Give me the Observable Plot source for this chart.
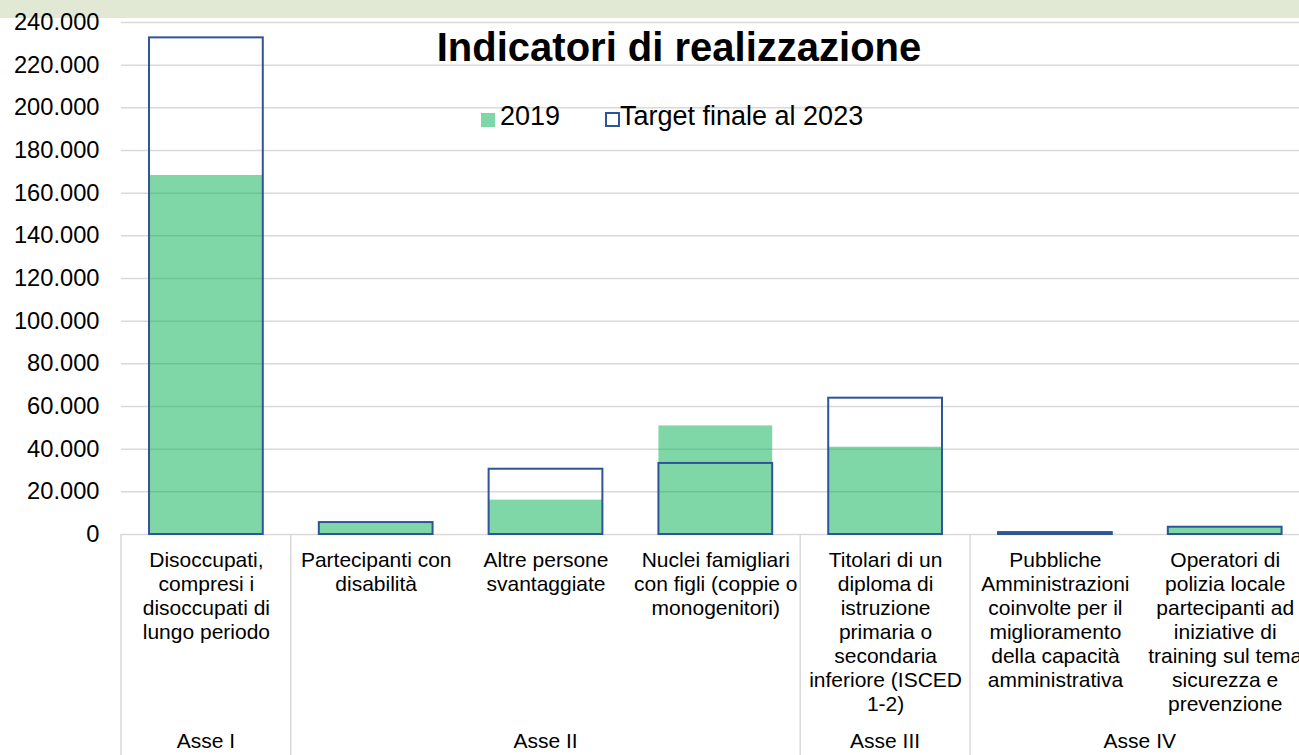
<!DOCTYPE html>
<html>
<head>
<meta charset="utf-8">
<script src="https://cdn.jsdelivr.net/npm/d3@7"></script>
<script src="https://cdn.jsdelivr.net/npm/@observablehq/plot@0.6"></script>
<style>
  html, body { margin: 0; padding: 0; background: #fff; }
  #wrap { position: relative; width: 1299px; height: 755px; overflow: hidden; font-family: "Liberation Sans", Arial, sans-serif; background: #fff; }
  #band { position: absolute; left: 0; top: 0; width: 1299px; height: 17.5px; background: #e1e8d4; z-index: 0; }
  #chart { position: absolute; left: 0; top: 0; z-index: 1; }
  #title { position: absolute; top: 27px; left: 679px; transform: translateX(-50%); font-size: 40px; line-height: 40px; font-weight: bold; color: #000; white-space: nowrap; z-index: 2; }
  .leg { position: absolute; font-size: 27px; line-height: 27px; color: #000; white-space: nowrap; z-index: 2; }
  .sw { position: absolute; z-index: 2; box-sizing: border-box; }
</style>
</head>
<body>
<div id="wrap">
  <div id="band"></div>
  <div id="chart"></div>
  <div id="title">Indicatori di realizzazione</div>
  <div class="sw" style="left:481px;top:113px;width:14px;height:14px;background:rgba(0,176,80,0.5);"></div>
  <div class="leg" style="left:500px;top:103px;">2019</div>
  <div class="sw" style="left:605px;top:112px;width:15px;height:15px;border:2px solid #2f5597;background:#fff;"></div>
  <div class="leg" style="left:620px;top:103px;">Target finale al 2023</div>
</div>
<script>
const categories = [
  "Disoccupati,\ncompresi i\ndisoccupati di\nlungo periodo",
  "Partecipanti con\ndisabilità",
  "Altre persone\nsvantaggiate",
  "Nuclei famigliari\ncon figli (coppie o\nmonogenitori)",
  "Titolari di un\ndiploma di\nistruzione\nprimaria o\nsecondaria\ninferiore (ISCED\n1-2)",
  "Pubbliche\nAmministrazioni\ncoinvolte per il\nmiglioramento\ndella capacità\namministrativa",
  "Operatori di\npolizia locale\npartecipanti ad\niniziative di\ntraining sul tema\nsicurezza e\nprevenzione"
];
const values2019 = [168300, 5300, 16100, 50900, 40900, 300, 3200];
const target2023 = [232800, 5600, 30600, 33300, 63900, 900, 3400];
const groups = ["Asse I", "Asse II", "Asse III", "Asse IV"];
const groupFirst = [0, 1, 4, 5];
const groupLast = [0, 3, 4, 6];
const yTicks = [0, 20000, 40000, 60000, 80000, 100000, 120000, 140000, 160000, 180000, 200000, 220000, 240000];

const it = d3.formatLocale({decimal: ",", thousands: ".", grouping: [3], currency: ["", "€"]});
const fmt = it.format(",");

const rows2019 = categories.map((c, i) => ({cat: c, v: values2019[i]}));
const rowsTarget = categories.map((c, i) => ({cat: c, v: target2023[i]}));

const W = 1299, H = 755;
const plot = Plot.plot({
  width: W,
  height: H,
  marginTop: 22,
  marginBottom: 221,
  marginLeft: 121,
  marginRight: 0,
  style: {fontFamily: "'Liberation Sans', Arial, sans-serif", color: "#000", background: "transparent"},
  x: {domain: categories, range: [121, 1309.6], paddingInner: 0.33, paddingOuter: 0.165, round: false, label: null},
  y: {domain: [0, 240000], label: null},
  marks: [
    Plot.ruleY(yTicks, {stroke: "#d9d9d9", strokeWidth: 1.5}),
    Plot.barY(rows2019, {x: "cat", y: "v", fill: "#00b050", fillOpacity: 0.5, inset: 0}),
    Plot.barY(rowsTarget, {x: "cat", y: "v", fill: "none", stroke: "#2f5597", strokeWidth: 2, inset: 0}),
    Plot.axisY({ticks: yTicks, tickFormat: fmt, tickSize: 0, tickPadding: 22, fontSize: 23.7, label: null}),
    Plot.axisX({tickSize: 0, tickPadding: 15, fontSize: 21, lineHeight: 1.143, tickFormat: d => d, label: null})
  ]
});
document.getElementById("chart").appendChild(plot);

// group separators and group labels, positioned from the plot's own scales
const sx = plot.scale("x"), sy = plot.scale("y");
const bw = sx.bandwidth;
const step = sx.step !== undefined ? sx.step : (sx.range[1] - sx.range[0]) / categories.length;
const center = c => sx.apply(c) + bw / 2;
const y0 = sy.apply(0);
const svg = d3.select(plot);
const g = svg.append("g");
const bounds = [];
groups.forEach((gname, gi) => {
  const left = center(categories[groupFirst[gi]]) - step / 2;
  const right = center(categories[groupLast[gi]]) + step / 2;
  bounds.push(left);
  if (gi === groups.length - 1) bounds.push(right);
  g.append("text")
    .attr("x", (left + right) / 2)
    .attr("y", 748)
    .attr("text-anchor", "middle")
    .attr("font-size", 21)
    .attr("fill", "#000")
    .text(gname);
});
bounds.forEach(b => {
  g.append("line")
    .attr("x1", b).attr("x2", b)
    .attr("y1", y0).attr("y2", H)
    .attr("stroke", "#d9d9d9").attr("stroke-width", 1.5);
});
</script>
</body>
</html>
